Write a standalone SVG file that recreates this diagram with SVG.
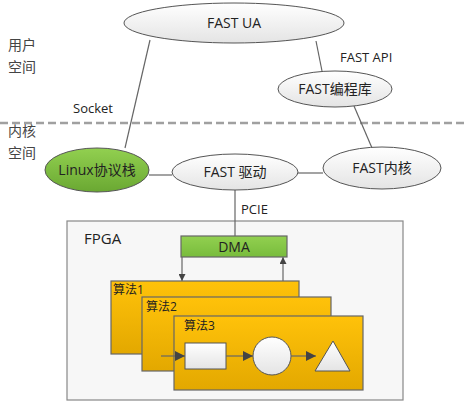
<svg xmlns="http://www.w3.org/2000/svg" width="465" height="405" viewBox="0 0 465 405">
<style>
text{font-family:"Open Sans","Noto Sans CJK SC",sans-serif;font-size:14px;fill:#222}
.n{text-anchor:middle}
.el{fill:url(#gw);stroke:#555;stroke-width:1}
.ln{stroke:#666;stroke-width:1.2;fill:none}
.alg{fill:url(#go);stroke:#666;stroke-width:1.2}
.al{font-size:12px}
.sm{font-size:13px}
.side{font-size:14px;fill:#444}
</style>
<defs>
<linearGradient id="gw" x1="0" y1="0" x2="0" y2="1"><stop offset="0" stop-color="#ffffff"/><stop offset="1" stop-color="#e4e4e4"/></linearGradient>
<linearGradient id="gg" x1="0" y1="0" x2="0" y2="1"><stop offset="0" stop-color="#92d050"/><stop offset="1" stop-color="#6aa832"/></linearGradient>
<linearGradient id="gd" x1="0" y1="0" x2="0" y2="1"><stop offset="0" stop-color="#92d050"/><stop offset="1" stop-color="#78bc3c"/></linearGradient>
<linearGradient id="go" x1="0" y1="0" x2="0" y2="1"><stop offset="0" stop-color="#ffc20a"/><stop offset="1" stop-color="#e3a800"/></linearGradient>
<marker id="ar" viewBox="0 0 10 10" refX="10" refY="5" markerWidth="7" markerHeight="7" orient="auto" markerUnits="userSpaceOnUse"><path d="M0,0L10,5L0,10z" fill="#444"/></marker>
<marker id="ar2" viewBox="0 0 10 10" refX="10" refY="5" markerWidth="10" markerHeight="10" orient="auto" markerUnits="userSpaceOnUse"><path d="M0,0L10,5L0,10z" fill="#444"/></marker>
</defs>

<text class="side" x="8" y="50">用户</text>
<text class="side" x="8" y="72">空间</text>
<text class="side" x="8" y="136">内核</text>
<text class="side" x="8" y="158">空间</text>
<line x1="0" y1="123" x2="465" y2="123" stroke="#a0a0a0" stroke-width="2.5" stroke-dasharray="8,4"/>

<g id="fpga">
<rect x="67" y="221" width="336" height="179" fill="#f7f7f7" stroke="#888" stroke-width="1.2"/>
<text x="84" y="244" style="font-size:15px">FPGA</text>
</g>

<g id="connectors">
<line class="ln" x1="150" y1="40" x2="125" y2="148"/>
<line class="ln" x1="316" y1="41" x2="322" y2="71"/>
<line class="ln" x1="354" y1="106" x2="372" y2="148"/>
<line class="ln" x1="149" y1="175" x2="172" y2="175"/>
<line class="ln" x1="298" y1="173" x2="323" y2="173"/>
<line class="ln" x1="235" y1="190" x2="235" y2="236"/>
<line class="ln" x1="182" y1="257" x2="182" y2="281" marker-end="url(#ar)"/>
<line class="ln" x1="283" y1="281" x2="283" y2="257" marker-end="url(#ar)"/>
</g>
<text class="sm" x="73" y="113">Socket</text>
<text class="sm" x="340" y="62">FAST API</text>
<text class="sm" x="241" y="214">PCIE</text>

<g id="fastua"><ellipse class="el" cx="234" cy="23" rx="110" ry="20"/><text class="n" x="234" y="28">FAST UA</text></g>
<g id="fastlib"><ellipse class="el" cx="335" cy="89" rx="57" ry="18"/><text class="n" x="335" y="94">FAST编程库</text></g>
<g id="linux"><ellipse cx="97" cy="170" rx="52" ry="22" fill="url(#gg)" stroke="#555"/><text class="n" x="97" y="175">Linux协议栈</text></g>
<g id="fastdrv"><ellipse class="el" cx="235" cy="172" rx="63" ry="18"/><text class="n" x="235" y="177">FAST 驱动</text></g>
<g id="fastkernel"><ellipse class="el" cx="382" cy="168" rx="59" ry="21"/><text class="n" x="382" y="173">FAST内核</text></g>

<g id="dma"><rect x="181" y="236" width="106" height="21" fill="url(#gd)" stroke="#666" stroke-width="1.2"/><text class="n" x="234" y="252">DMA</text></g>

<g id="alg1"><rect class="alg" x="111" y="281" width="188" height="73"/><text class="al" x="113" y="294">算法1</text></g>
<g id="alg2"><rect class="alg" x="142" y="297" width="189" height="74"/><text class="al" x="146" y="311">算法2</text></g>
<g id="alg3"><rect class="alg" x="174" y="316" width="189" height="74"/><text class="al" x="184" y="330">算法3</text>
<line class="ln" x1="161" y1="356" x2="185" y2="356" marker-end="url(#ar2)"/>
<rect x="185" y="343" width="41" height="26" fill="url(#gw)" stroke="#555"/>
<line class="ln" x1="226" y1="356" x2="253" y2="356" marker-end="url(#ar2)"/>
<circle cx="272" cy="356" r="19" fill="url(#gw)" stroke="#555"/>
<line class="ln" x1="291" y1="356" x2="316" y2="356" marker-end="url(#ar2)"/>
<path d="M333,341L350,371L315,371z" fill="url(#gw)" stroke="#555"/>
</g>
</svg>
